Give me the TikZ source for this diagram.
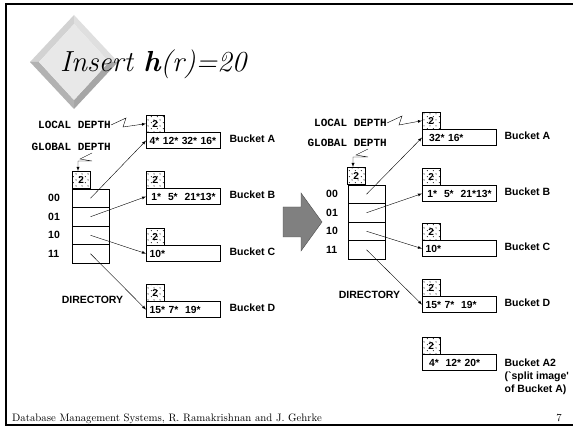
\documentclass[tikz,border=0pt]{standalone}
\usepackage{fontspec}
\newfontfamily\arialf{Liberation Sans}
\newfontfamily\courf{Liberation Mono}
\usetikzlibrary{arrows,patterns,positioning}

\pgfdeclarepatternformonly{sparsedots}{\pgfpointorigin}{\pgfqpoint{6pt}{6pt}}{\pgfqpoint{6pt}{6pt}}{%
  \pgfpathcircle{\pgfqpoint{1.5pt}{1.5pt}}{0.6pt}%
  \pgfpathcircle{\pgfqpoint{4.5pt}{4.5pt}}{0.6pt}%
  \pgfusepath{fill}}

\tikzset{
  bucket/.style={draw,anchor=north west,text width=67pt,inner xsep=3.5pt,inner ysep=0pt,
    minimum height=16pt,font=\arialf\bfseries\fontsize{10.3}{10}\selectfont},
  depthbox/.style={draw,anchor=north west,minimum width=18pt,minimum height=17pt,
    inner sep=0pt,pattern=sparsedots,font=\arialf\bfseries\fontsize{10}{10}\selectfont},
  dircell/.style={draw,minimum width=37pt,minimum height=18.5pt,inner sep=0pt},
  blabel/.style={anchor=west,inner sep=0pt,align=left,font=\arialf\bfseries\fontsize{10.5}{13}\selectfont},
  rowlabel/.style={anchor=west,inner sep=0pt,font=\arialf\bfseries\fontsize{10.5}{10}\selectfont},
  mono/.style={anchor=east,inner sep=0pt,font=\courf\bfseries\fontsize{11}{11}\selectfont},
  ptr/.style={-latex,thin},
}

\begin{document}
\begin{tikzpicture}[x=1pt,y=-1pt]
\useasboundingbox (0,0) rectangle (573,430);
%\draw[help lines] (0,0) grid[step=50] (573,430);
\draw[line width=2pt] (6,4) rectangle (580,425);
% title diamond
\fill[gray!35] (30,62)--(74,15)--(74,24)--(39,62)--cycle;
\fill[gray!25] (74,15)--(118,62)--(109,62)--(74,24)--cycle;
\fill[gray!70] (118,62)--(74,109)--(74,100)--(109,62)--cycle;
\fill[gray!60] (74,109)--(30,62)--(39,62)--(74,100)--cycle;
\fill[gray!18] (74,24)--(109,62)--(74,100)--(39,62)--cycle;
\node[anchor=base west,inner sep=0pt,font=\itshape\fontsize{29}{30}\selectfont] (title) at (60,72)
  {Insert {\bfseries h}(r)=20};
%
% before the insert
\node[mono] (lld) at (111,125) {LOCAL DEPTH};
\node[mono] (lgd) at (111,147) {GLOBAL DEPTH};
\node[depthbox] (lgbox) at (72,171) {2};
\foreach \k/\y in {00/198.25,01/216.75,10/235.25,11/253.75}{
  \node[dircell] (ld\k) at (90.5,\y) {};
  \node[rowlabel] (ll\k) at (48,\y) {\k};
}
\node[rowlabel,anchor=center,font=\arialf\bfseries\fontsize{10.5}{11}\selectfont] (ldir) at (92.5,300) {DIRECTORY};
\foreach \k/\y/\t in {A/115/{4* 12* 32* 16*},B/171/{\,1*\ \ 5*\ \ 21*13*},C/228/{10*},D/284/{15* 7*\ \ 19*}}{
  \node[depthbox] (ldb\k) at (146,\y) {2};
  \node[bucket] (lb\k) at (ldb\k.south west) {\mbox{\t}};
  \node[blabel] (lbl\k) at ([xshift=9pt,yshift=1.5pt]lb\k.east) {Bucket \k};
}
\draw[ptr] (lld.east)--(126,118)--(123,127)--(ldbA.west);
\draw[ptr] (92,153)--(80,159)--(92,161)--(78,161)--(lgbox.north -| 78,0);
\foreach \k/\b in {00/A,01/B,10/C,11/D}
  \draw[ptr] (ld\k.center)--(lb\b.west);
%
% the arrow between
\draw[fill=gray,draw=black!70] (283,207)--(301,207)--(301,193)--(322,222)--(301,251)--(301,237)--(283,237)--cycle;
%
% after the insert
\node[mono] (rld) at (387,123) {LOCAL DEPTH};
\node[mono] (rgd) at (387,143) {GLOBAL DEPTH};
\node[depthbox] (rgbox) at (347,167) {2};
\foreach \k/\y in {00/194.25,01/212.75,10/231.25,11/249.75}{
  \node[dircell] (rd\k) at (366.5,\y) {};
  \node[rowlabel] (rl\k) at (326,\y) {\k};
}
\node[rowlabel,anchor=center,font=\arialf\bfseries\fontsize{10.5}{11}\selectfont] (rdir) at (369.5,295) {DIRECTORY};
\foreach \k/\y/\t in {A/112/{\ 32* 16*},B/168/{\,1*\ \ 5*\ \ 21*13*},C/223/{10*},D/279/{15* 7*\ \ 19*},A2/337/{\ 4*\ \ 12* 20*}}{
  \node[depthbox] (rdb\k) at (422,\y) {2};
  \node[bucket] (rb\k) at (rdb\k.south west) {\mbox{\t}};
}
\foreach \k in {A,B,C,D}
  \node[blabel] (rbl\k) at ([xshift=8pt,yshift=1.5pt]rb\k.east) {Bucket \k};
\node[blabel,anchor=north west] (rblA2) at ([xshift=8pt,yshift=-4pt]rbA2.north east)
  {Bucket A2\\(`split image'\\of Bucket A)};
\draw[ptr] (rld.east)--(402,116)--(399,125)--(rdbA.west);
\draw[ptr] (368,149)--(356,155)--(368,157)--(353,157)--(rgbox.north -| 353,0);
\foreach \k/\b in {00/A,01/B,10/C,11/D}
  \draw[ptr] (rd\k.center)--(rb\b.west);
%
\node[anchor=base west,inner sep=0pt,font=\fontsize{10.8}{12}\selectfont] (foot) at (12,421)
  {Database Management Systems, R. Ramakrishnan and J. Gehrke};
\node[anchor=base east,inner sep=0pt,font=\fontsize{10.8}{12}\selectfont] (pnum) at (562,421) {7};
\end{tikzpicture}
\end{document}
